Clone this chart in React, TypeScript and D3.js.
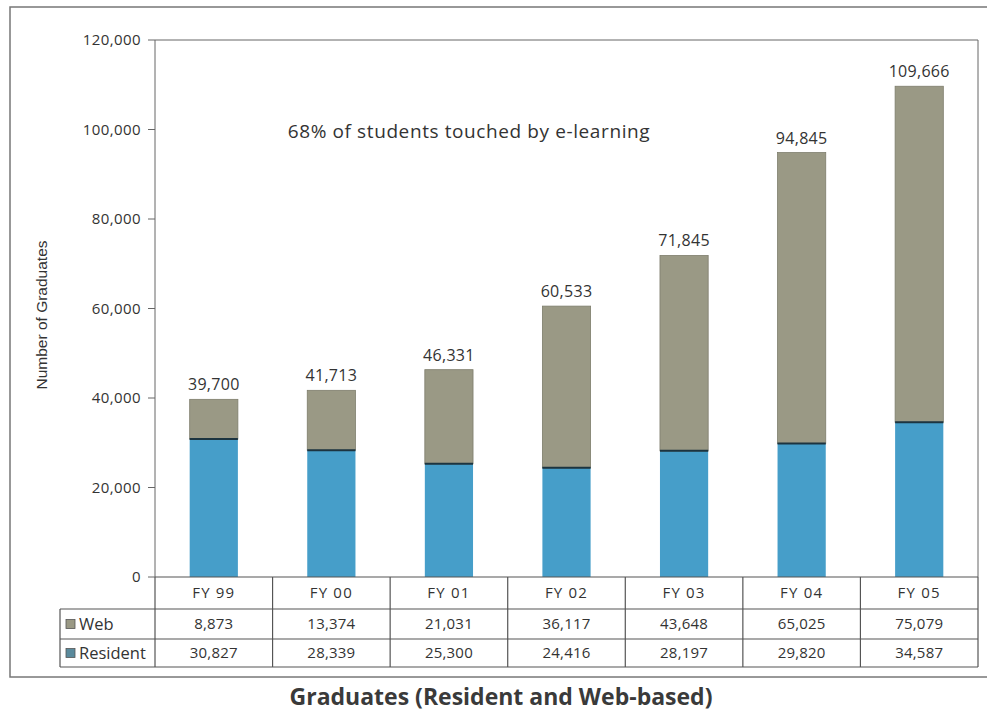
import React, { useEffect, useRef } from 'react';
import * as d3 from 'd3';

const years = ['FY 99', 'FY 00', 'FY 01', 'FY 02', 'FY 03', 'FY 04', 'FY 05'];
const web = [8873, 13374, 21031, 36117, 43648, 65025, 75079];
const resident = [30827, 28339, 25300, 24416, 28197, 29820, 34587];
const totals = [39700, 41713, 46331, 60533, 71845, 94845, 109666];
const yTicks = [0, 20000, 40000, 60000, 80000, 100000, 120000];

const W = 987;
const H = 714;

export default function App() {
  const ref = useRef<SVGSVGElement>(null);

  useEffect(() => {
    const svg = d3.select(ref.current);
    svg.selectAll('*').remove();

    const left = 155, right = 978, top = 40, bottom = 577;
    const textCol = '#333';
    const lineCol = '#555';
    const webCol = '#9a9985';
    const resCol = '#469ec9';
    const font = '"Open Sans", sans-serif';

    // outer frame
    svg.append('rect')
      .attr('x', 10).attr('y', 7).attr('width', 990).attr('height', 670)
      .attr('fill', 'none').attr('stroke', '#777').attr('stroke-width', 1.5);

    const col = d3.scaleBand<string>().domain(years).range([left, right]);
    const y = d3.scaleLinear().domain([0, 120000]).range([bottom, top]);
    const barW = col.bandwidth() * 0.41;

    // plot frame
    svg.append('path')
      .attr('d', `M${left},${bottom}V${top}H${right}V${bottom}`)
      .attr('fill', 'none').attr('stroke', '#666').attr('stroke-width', 1);

    // y axis ticks & labels
    const tk = svg.append('g');
    yTicks.forEach(t => {
      tk.append('line').attr('x1', left - 7).attr('x2', left).attr('y1', y(t)).attr('y2', y(t))
        .attr('stroke', '#666');
      tk.append('text').attr('x', left - 14).attr('y', y(t)).attr('dy', '0.35em')
        .attr('text-anchor', 'end').attr('font-family', font).attr('font-size', 15)
        .attr('letter-spacing', 0.4)
        .attr('fill', textCol).text(d3.format(',')(t));
    });

    svg.append('text')
      .attr('transform', `translate(47,315) rotate(-90)`)
      .attr('text-anchor', 'middle').attr('font-family', '"Liberation Sans", Arial, sans-serif')
      .attr('font-size', 15.5).attr('fill', textCol).text('Number of Graduates');

    // stacked bars
    const rows = years.map((yr, i) => ({ year: yr, Resident: resident[i], Web: web[i] }));
    const series = d3.stack<any>().keys(['Resident', 'Web'])(rows);
    const colors: Record<string, string> = { Resident: resCol, Web: webCol };
    series.forEach(s => {
      svg.append('g').selectAll('rect').data(s).join('rect')
        .attr('x', d => (col(d.data.year) as number) + (col.bandwidth() - barW) / 2)
        .attr('y', d => y(d[1]))
        .attr('width', barW)
        .attr('height', d => y(d[0]) - y(d[1]))
        .attr('fill', colors[s.key])
        .attr('stroke', s.key === 'Web' ? '#7e7d6c' : 'none')
        .attr('stroke-width', 0.8);
    });
    // dark divider at top of resident segment
    svg.append('g').selectAll('line').data(rows).join('line')
      .attr('x1', d => (col(d.year) as number) + (col.bandwidth() - barW) / 2)
      .attr('x2', d => (col(d.year) as number) + (col.bandwidth() + barW) / 2)
      .attr('y1', d => y(d.Resident)).attr('y2', d => y(d.Resident))
      .attr('stroke', '#1c3440').attr('stroke-width', 2);

    // totals
    svg.append('g').selectAll('text').data(years).join('text')
      .attr('x', d => (col(d) as number) + col.bandwidth() / 2)
      .attr('y', (d, i) => y(totals[i]) - 9)
      .attr('text-anchor', 'middle').attr('font-family', font).attr('font-size', 16)
      .attr('letter-spacing', 0.3)
      .attr('fill', textCol).text((d, i) => d3.format(',')(totals[i]));

    svg.append('text')
      .attr('x', 469).attr('y', 138).attr('text-anchor', 'middle')
      .attr('font-family', font).attr('font-size', 19).attr('letter-spacing', 0.6)
      .attr('fill', textCol)
      .text('68% of students touched by e-learning');

    // data table
    const tLeft = 60, r0 = bottom, r1 = 609, r2 = 639, r3 = 667;
    const tbl = svg.append('g').attr('stroke', lineCol).attr('stroke-width', 1.2);
    tbl.append('line').attr('x1', left).attr('x2', right).attr('y1', r0).attr('y2', r0);
    [r1, r2, r3].forEach(r => tbl.append('line').attr('x1', tLeft).attr('x2', right).attr('y1', r).attr('y2', r));
    tbl.append('line').attr('x1', tLeft).attr('x2', tLeft).attr('y1', r1).attr('y2', r3);
    years.forEach(yr => {
      const x0 = col(yr) as number;
      tbl.append('line').attr('x1', x0).attr('x2', x0).attr('y1', r0).attr('y2', r3);
    });
    tbl.append('line').attr('x1', right).attr('x2', right).attr('y1', r0).attr('y2', r3);

    const cellText = (x: number, yy: number, s: string, ls: number) =>
      svg.append('text').attr('x', x).attr('y', yy).attr('dy', '0.35em').attr('text-anchor', 'middle')
        .attr('font-family', font).attr('font-size', 15).attr('letter-spacing', ls)
        .attr('fill', textCol).text(s);

    years.forEach((yr, i) => {
      const cx = (col(yr) as number) + col.bandwidth() / 2;
      cellText(cx, (r0 + r1) / 2, yr, 1.2);
      cellText(cx, (r1 + r2) / 2, d3.format(',')(web[i]), 0.2);
      cellText(cx, (r2 + r3) / 2, d3.format(',')(resident[i]), 0.2);
    });

    const legend = [
      { name: 'Web', color: webCol, cy: (r1 + r2) / 2 },
      { name: 'Resident', color: '#5a8a9c', cy: (r2 + r3) / 2 },
    ];
    legend.forEach(l => {
      svg.append('rect').attr('x', 66).attr('y', l.cy - 4.5).attr('width', 9).attr('height', 9)
        .attr('fill', l.color).attr('stroke', '#555').attr('stroke-width', 0.8);
      svg.append('text').attr('x', 79).attr('y', l.cy).attr('dy', '0.35em')
        .attr('font-family', font).attr('font-size', 16.5).attr('fill', textCol).text(l.name);
    });

    svg.append('text')
      .attr('x', 501).attr('y', 705).attr('text-anchor', 'middle')
      .attr('font-family', font).attr('font-weight', 'bold').attr('font-size', 23)
      .attr('fill', '#3a3a3a').text('Graduates (Resident and Web-based)');
  }, []);

  return (
    <svg ref={ref} width={W} height={H}
      style={{ position: 'absolute', left: 0, top: 0, background: '#fff' }} />
  );
}
